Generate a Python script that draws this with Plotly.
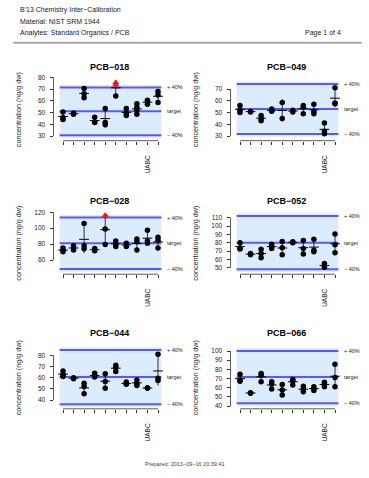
import numpy as np
import plotly.graph_objects as go

W, H = 369, 478

# ---------------- data ----------------
categories = list(range(1, 11))
tick_text = ["", "", "", "", "", "", "", "", "UABC", ""]

analytes = ["PCB\u2212018", "PCB\u2212049", "PCB\u2212028", "PCB\u2212052", "PCB\u2212044", "PCB\u2212066"]
targets = [51, 53, 81, 80, 60.5, 71.5]

pcb018 = [[50.5, 45.5, 44], [49.5, 48.5], [70.5, 66, 62.5], [46, 42, 41.5], [53.5, 41.5, 39.5],
          [75.5, 73.5, 64], [53.5, 49.5, 47.5], [57.5, 54.5, 52, 48.5], [60.5, 59, 57], [68, 65, 58.5]]
pcb049 = [[56, 52, 50], [51, 50.5], [47.5, 45, 43], [53, 51.5, 51], [58.5, 45],
          [52, 50.5], [56, 54.5, 49], [57, 51, 49], [41, 34, 32], [71, 58, 57.5]]
pcb028 = [[75, 72, 70.5], [78, 75, 72.5], [106, 78, 74], [74.5, 71.5], [116, 99, 79.5],
          [84, 80, 77], [81, 77], [86.5, 83, 72.5], [97.5, 84, 81], [88.5, 85, 75]]
pcb052 = [[80, 73.5, 72.5], [67, 65.5], [72, 67, 62], [78, 75, 73], [81.5, 74, 65.5],
          [81, 80], [82.5, 73, 66.5], [84, 71, 69], [55, 52.5, 50.5], [90.5, 77.5, 68]]
pcb044 = [[66, 62.5, 61], [60, 59], [55, 52, 45.5], [64, 61.5, 60.5], [63.5, 56.5, 50.5],
          [71, 69, 65.5], [56, 54.5, 54], [58, 55, 53], [51, 50.5], [81, 59.5, 57.5]]
pcb066 = [[74.5, 68, 67], [54.5, 54], [75.5, 73.5, 66.5], [66.5, 64, 58.5], [63.5, 57.5, 52],
          [69, 67.5, 63], [61.5, 58, 55.5], [61, 59, 57], [66, 63.5, 61], [85.5, 71, 61]]
panel_values = [pcb018, pcb049, pcb028, pcb052, pcb044, pcb066]

ytick_sets = [[30, 40, 50, 60, 70, 80], [30, 40, 50, 60, 70], [60, 80, 100, 120],
              [50, 60, 70, 80, 90, 100, 110], [40, 50, 60, 70, 80], [40, 50, 60, 70, 80, 90, 100]]

header_lines = ["B'13 Chemistry Inter\u2212Calibration", "Material: NIST SRM 1944",
                "Analytes: Standard Organics / PCB"]
page_text = "Page 1 of 4"
footer_text = "Prepared: 2013\u221209\u221216 20:39:41"

# ---------------- geometry (pixels) ----------------
col_left = [53.5, 230.5]
plot_w = 114.0
row_bottom = [140.7, 274.2, 408.8]
row_title = [67.0, 200.5, 333.0]
plot_h = 66.0
# calibration: (value a, pixel a, value b, pixel b)
calib = [(80, 77.3, 30, 136.0), (70, 89.0, 30, 136.0), (120, 212.3, 60, 260.0),
         (110, 217.7, 50, 267.7), (80, 355.3, 40, 400.0), (100, 351.0, 40, 406.0)]

FONT = "Liberation Sans, Arial, Helvetica, sans-serif"
BLUE = "#5858ff"
SHADE = "#dcecff"
TXT = "#222222"

fig = go.Figure()
shapes, annotations = [], []
layout_axes = {}

for k in range(6):
    r, c = divmod(k, 2)
    sfx = "" if k == 0 else str(k + 1)
    xa, ya = "x" + sfx, "y" + sfx
    L = col_left[c]
    B = row_bottom[r]
    va, pa, vb, pb = calib[k]
    s = (pb - pa) / (va - vb)
    vB = vb - (B - pb) / s
    vT = vB + plot_h / s
    T = targets[k]
    vals = panel_values[k]

    layout_axes["xaxis" + sfx] = dict(
        domain=[L / W, (L + plot_w) / W], range=[0.1, 10.9], anchor=ya,
        tickvals=categories, ticktext=tick_text, ticks="outside", ticklen=3,
        tickwidth=0.8, tickcolor="#333", showline=False, showgrid=False, zeroline=False,
        tickangle=-90, tickfont=dict(size=6.5, color=TXT, family=FONT), ticklabelstandoff=8)
    layout_axes["yaxis" + sfx] = dict(
        domain=[1 - B / H, 1 - (B - plot_h) / H], range=[vB, vT], anchor=xa,
        tickvals=ytick_sets[k], ticks="outside", ticklen=3, tickwidth=0.8, tickcolor="#333",
        showline=False, showgrid=False, zeroline=False,
        tickfont=dict(size=6.5, color=TXT, family=FONT), ticklabelstandoff=3)

    # shaded band and reference lines
    shapes.append(dict(type="rect", xref=xa, yref=ya, x0=0.68, x1=10.32, y0=0.56 * T, y1=1.44 * T,
                       fillcolor=SHADE, line=dict(width=0), layer="below"))
    for f in (0.6, 1.0, 1.4):
        shapes.append(dict(type="line", xref=xa, yref=ya, x0=0.68, x1=10.32, y0=f * T, y1=f * T,
                           line=dict(color=BLUE, width=2), layer="below"))
    # axis lines (R style, tick span only)
    yt = ytick_sets[k]
    shapes.append(dict(type="line", xref=xa + " domain", yref=ya, x0=0, x1=0, y0=min(yt), y1=max(yt),
                       line=dict(color="#333", width=0.8)))
    shapes.append(dict(type="line", xref=xa, yref=ya + " domain", x0=categories[0], x1=categories[-1],
                       y0=0, y1=0, line=dict(color="#333", width=0.8)))

    # mean +- sd
    means = [float(np.mean(g)) for g in vals]
    sds = [float(np.std(g, ddof=1)) for g in vals]
    fig.add_trace(go.Scatter(
        x=categories, y=means, mode="markers", xaxis=xa, yaxis=ya, cliponaxis=False,
        marker=dict(symbol="line-ew", size=7, color="black", line=dict(width=1, color="black")),
        error_y=dict(type="data", array=sds, visible=True, width=0, thickness=0.8, color="black"),
        hoverinfo="skip", showlegend=False))
    # points
    xin, yin, xout, yout = [], [], [], []
    for ci, g in zip(categories, vals):
        for v in g:
            if v > 1.4 * T:
                xout.append(ci); yout.append(v)
            else:
                xin.append(ci); yin.append(v)
    fig.add_trace(go.Scatter(x=xin, y=yin, mode="markers", xaxis=xa, yaxis=ya, cliponaxis=False,
                             marker=dict(symbol="circle", size=5.5, color="black"),
                             hoverinfo="skip", showlegend=False))
    if xout:
        fig.add_trace(go.Scatter(x=xout, y=yout, mode="markers", xaxis=xa, yaxis=ya, cliponaxis=False,
                                 marker=dict(symbol="triangle-up", size=6.5, color="#ff1010"),
                                 hoverinfo="skip", showlegend=False))

    # title
    annotations.append(dict(text="<b>" + analytes[k] + "</b>", xref=xa + " domain", x=0.487,
                            yref="paper", y=1 - row_title[r] / H, showarrow=False,
                            xanchor="center", yanchor="middle",
                            font=dict(size=9, color="black", family=FONT)))
    # right-side labels
    for f, lab in ((1.4, "+ 40%"), (1.0, "target"), (0.6, "\u2212 40%")):
        annotations.append(dict(text=lab, xref=xa, x=10.65, yref=ya, y=f * T, showarrow=False,
                                xanchor="left", yanchor="middle",
                                font=dict(size=5.5, color=TXT, family=FONT)))
    # y title
    annotations.append(dict(text="concentration (ng/g dw)", xref=xa + " domain", x=-35 / plot_w,
                            yref="paper", y=1 - (B - 31) / H, showarrow=False, textangle=-90,
                            xanchor="center", yanchor="middle",
                            font=dict(size=7.2, color=TXT, family=FONT)))

# header
for i, t in enumerate(header_lines):
    annotations.append(dict(text=t, xref="paper", yref="paper", x=18 / W, y=1 - (10 + 11.6 * i) / H,
                            xanchor="left", yanchor="middle", showarrow=False,
                            font=dict(size=7, color=TXT, family=FONT)))
annotations.append(dict(text=page_text, xref="paper", yref="paper", x=343 / W, y=1 - 33.2 / H,
                        xanchor="right", yanchor="middle", showarrow=False,
                        font=dict(size=7, color=TXT, family=FONT)))
shapes.append(dict(type="line", xref="paper", yref="paper", x0=13.3 / W, x1=361.7 / W,
                   y0=1 - 42.7 / H, y1=1 - 42.7 / H, line=dict(color="#a8a8a8", width=2)))
annotations.append(dict(text=footer_text, xref="paper", yref="paper", x=185 / W, y=1 - 464 / H,
                        xanchor="center", yanchor="middle", showarrow=False,
                        font=dict(size=5.5, color="#444", family=FONT)))

fig.update_layout(width=W, height=H, margin=dict(l=0, r=0, t=0, b=0),
                  paper_bgcolor="white", plot_bgcolor="rgba(0,0,0,0)",
                  showlegend=False, shapes=shapes, annotations=annotations,
                  font=dict(family=FONT, color=TXT), hovermode=False, **layout_axes)

fig.write_html("out.html", config={"displayModeBar": False},
               post_script="document.body.style.margin='0';document.body.style.padding='0';document.body.style.overflow='hidden';")
